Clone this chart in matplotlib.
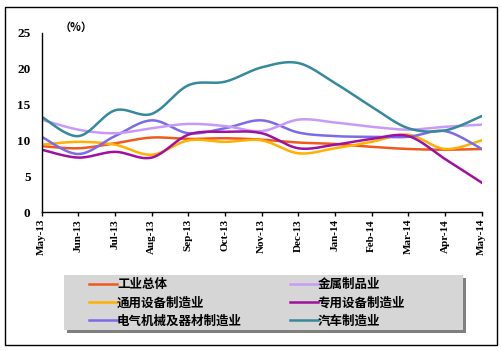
import numpy as np
import matplotlib.pyplot as plt
from matplotlib.patches import Rectangle

months = ['May-13', 'Jun-13', 'Jul-13', 'Aug-13', 'Sep-13', 'Oct-13', 'Nov-13',
          'Dec-13', 'Jan-14', 'Feb-14', 'Mar-14', 'Apr-14', 'May-14']

industry_total = [9.2, 8.9, 9.6, 10.4, 10.2, 10.3, 10.1, 9.7, 9.5, 9.1, 8.8, 8.7, 8.8]
general_equip = [9.4, 9.8, 9.4, 8.0, 10.0, 9.8, 10.0, 8.2, 8.9, 9.8, 10.8, 8.8, 10.0]
electrical = [10.5, 8.1, 10.6, 12.8, 11.0, 11.7, 12.8, 11.1, 10.6, 10.5, 10.5, 11.3, 8.8]
metal_products = [12.9, 11.5, 11.0, 11.7, 12.3, 12.0, 11.3, 12.9, 12.5, 11.9, 11.5, 11.9, 12.2]
special_equip = [8.7, 7.6, 8.4, 7.6, 10.8, 11.2, 11.0, 8.9, 9.4, 10.2, 10.6, 7.4, 4.1]
automobile = [13.3, 10.6, 14.2, 13.7, 17.7, 18.2, 20.2, 20.8, 18.0, 14.7, 11.7, 11.4, 13.4]

labels = ['工业总体', '通用设备制造业', '电气机械及器材制造业',
          '金属制品业', '专用设备制造业', '汽车制造业']
colors = ['#EE5A1E', '#FFB000', '#7C6BE6', '#C79BF5', '#A0109E', '#35899A']
series = [industry_total, general_equip, electrical, metal_products, special_equip, automobile]

plt.rcParams['font.family'] = ['Noto Sans CJK SC', 'DejaVu Sans']


def smooth(xs, ys, n=24):
    # bezier smoothing like a spreadsheet "smoothed line"
    pts = np.column_stack([xs, ys]).astype(float)
    out = []
    for i in range(len(pts) - 1):
        p0 = pts[i - 1] if i > 0 else pts[i]
        p1 = pts[i]
        p2 = pts[i + 1]
        p3 = pts[i + 2] if i + 2 < len(pts) else pts[i + 1]
        c1 = p1 + (p2 - p0) / 6
        c2 = p2 - (p3 - p1) / 6
        t = np.linspace(0, 1, n)[:, None]
        seg = ((1 - t) ** 3) * p1 + 3 * ((1 - t) ** 2) * t * c1 + 3 * (1 - t) * t ** 2 * c2 + t ** 3 * p2
        out.append(seg if i == 0 else seg[1:])
    out = np.vstack(out)
    return out[:, 0], out[:, 1]


W, H = 502, 351
fig = plt.figure(figsize=(5.02, 3.51), dpi=100)
ax = fig.add_axes([0.083, 0.396, 0.8766, 0.510])

x = np.arange(len(months))
lines = []
for ys, c, lab in zip(series, colors, labels):
    sx, sy = smooth(x, ys)
    l, = ax.plot(sx, sy, color=c, lw=1.8, label=lab)
    lines.append(l)

ax.set_xlim(0, len(months) - 1)
ax.set_ylim(0, 25)
ax.set_yticks([0, 5, 10, 15, 20, 25])
ax.set_xticks(x)
ax.set_xticklabels(months, rotation=90, fontsize=8, fontweight='bold', family='Liberation Serif')
for t in ax.get_yticklabels():
    t.set_fontsize(9.5)
    t.set_fontweight('bold')
    t.set_family('Liberation Serif')
ax.tick_params(axis='x', direction='out', length=3, width=1, pad=2)
ax.tick_params(axis='y', length=0, pad=8)
ax.spines['top'].set_visible(False)
ax.spines['right'].set_visible(False)
for s in ['left', 'bottom']:
    ax.spines[s].set_linewidth(1)
ax.text(0.04, 1.03, '（%）', transform=ax.transAxes, fontsize=8, fontweight='bold', va='center')

# legend box with shadow
fig.patches.append(Rectangle((67 / W, 1 - 333 / H), 399 / W, 55 / H, transform=fig.transFigure,
                             facecolor='#7F7F7F', edgecolor='none'))
fig.patches.append(Rectangle((64 / W, 1 - 330 / H), 399 / W, 55 / H, transform=fig.transFigure,
                             facecolor='#D6D6D6', edgecolor='none'))
leg = fig.legend(handles=lines, ncol=2, loc='upper left',
                 bbox_to_anchor=(89 / W, 1 - 278 / H), frameon=False,
                 fontsize=9, handlelength=2.25, handletextpad=0.0,
                 labelspacing=0.42, borderpad=0, columnspacing=3.8, borderaxespad=0)
for t in leg.get_texts():
    t.set_fontweight('bold')

fig.patches.append(Rectangle((5 / W, 1 - 345 / H), 492 / W, 338 / H,
                             transform=fig.transFigure, fill=False, edgecolor='black', lw=1))

fig.savefig('out.png', dpi=100)
